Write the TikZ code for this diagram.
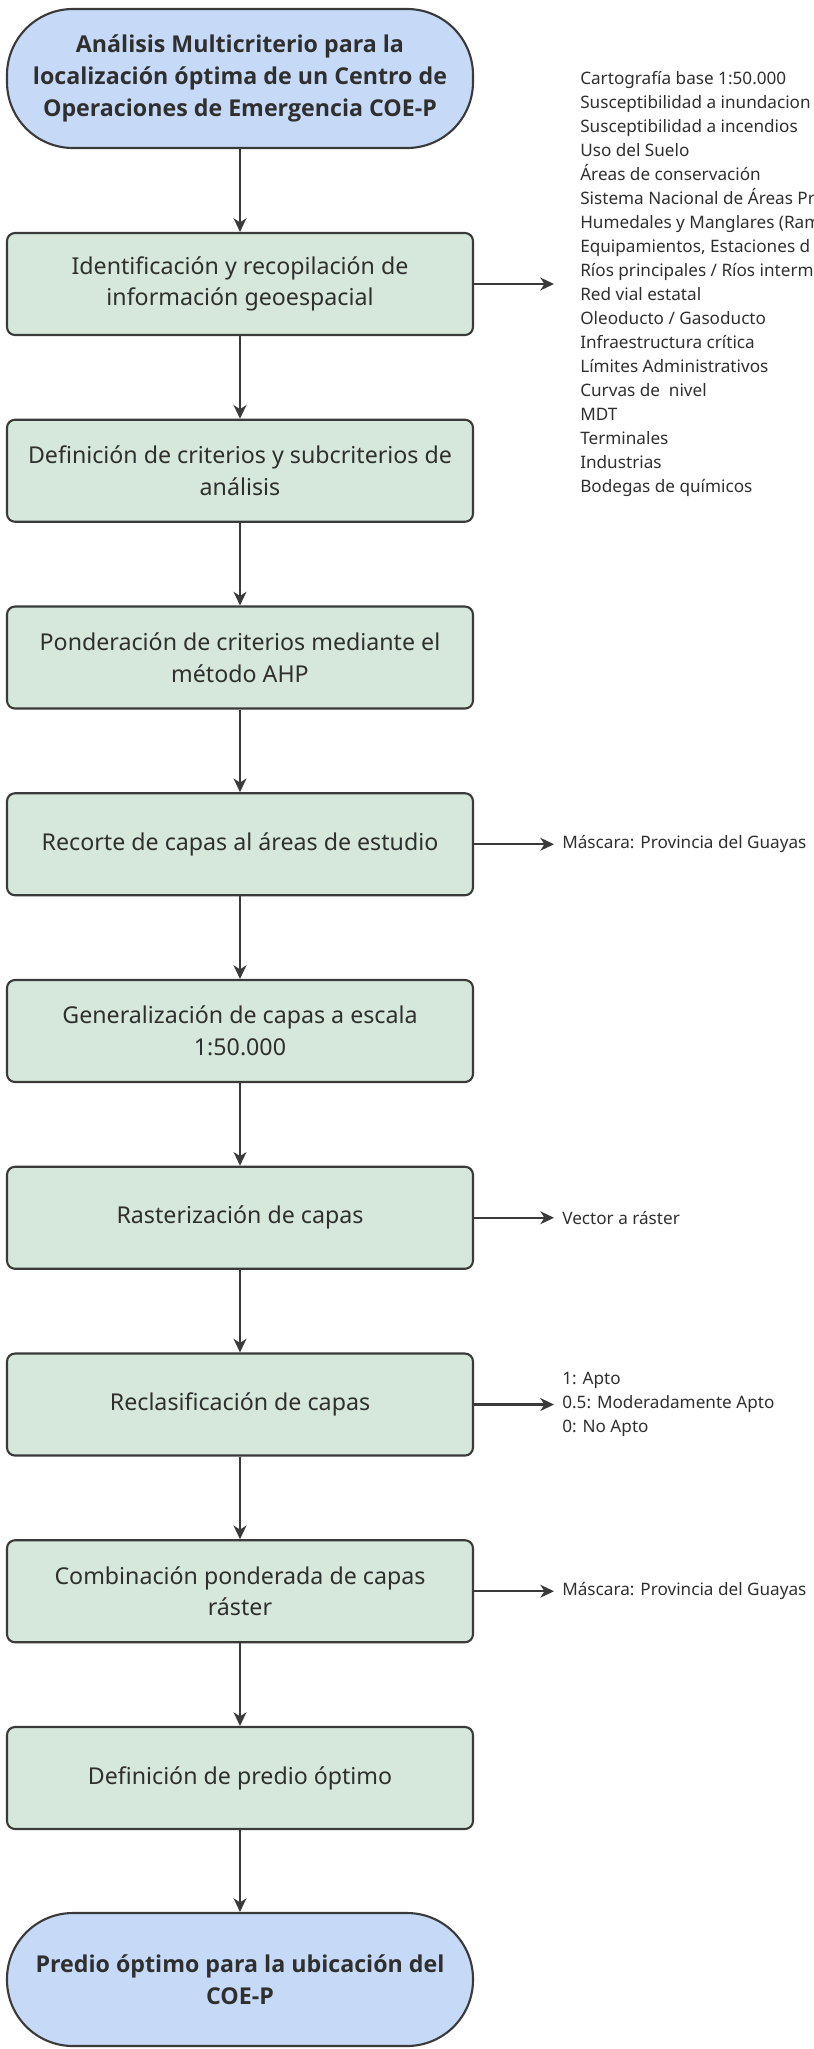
\documentclass[tikz,border=0pt]{standalone}
\usepackage{fontspec}
\setmainfont{Noto Sans}
\newfontfamily\headfont{Open Sans}
\usetikzlibrary{arrows.meta}

\definecolor{boxgreen}{HTML}{D5E8DB}
\definecolor{termblue}{HTML}{C6DAF8}
\definecolor{edgegray}{HTML}{3A3A3A}
\definecolor{inkgray}{HTML}{2F2F2F}

\begin{document}
\begin{tikzpicture}[
    terminal/.style={
        rectangle,
        rounded corners=1.65cm,
        minimum width=11.65cm,
        minimum height=3.475cm,
        draw=edgegray,
        line width=1.5pt,
        fill=termblue,
        text=inkgray,
        font=\headfont\fontsize{16.5}{22.5}\selectfont\bfseries,
        align=center
    },
    process/.style={
        rectangle,
        rounded corners=0.2cm,
        minimum width=11.65cm,
        minimum height=2.55cm,
        draw=edgegray,
        line width=1.5pt,
        fill=boxgreen,
        text=inkgray,
        font=\fontsize{16.5}{22.5}\selectfont,
        align=center
    },
    note/.style={
        anchor=west,
        inner ysep=0pt,
        inner xsep=0.2cm,
        text=inkgray,
        font=\fontsize{12.2}{17.07}\selectfont,
        align=left
    },
    flow/.style={
        -{Stealth[length=0.34cm, width=0.32cm, inset=0.1cm]},
        line width=1.5pt,
        draw=edgegray
    }
]

\useasboundingbox (0,0) rectangle (20.35,-51.225);

\node[terminal] (start) at (6,-1.9625) {Análisis Multicriterio para la\\localización óptima de un Centro de\\Operaciones de Emergencia COE-P};

\node[process] (ident) at (6,-7.1) {Identificación y recopilación de\\información geoespacial};
\node[process] (crit) at (6,-11.769) {Definición de criterios y subcriterios de\\análisis};
\node[process] (ahp) at (6,-16.438) {Ponderación de criterios mediante el\\método AHP};
\node[process] (recorte) at (6,-21.106) {Recorte de capas al áreas de estudio};
\node[process] (general) at (6,-25.775) {Generalización de capas a escala\\1:50.000};
\node[process] (raster) at (6,-30.444) {Rasterización de capas};
\node[process] (reclas) at (6,-35.113) {Reclasificación de capas};
\node[process] (combi) at (6,-39.781) {Combinación ponderada de capas\\ráster};
\node[process] (predio) at (6,-44.45) {Definición de predio óptimo};

\node[terminal, minimum height=3.325cm] (final) at (6,-49.4875) {Predio óptimo para la ubicación del\\COE-P};

% Side notes
\node[note, inner xsep=0.65cm] (capas) at (13.85,-7.1) {Cartografía base 1:50.000\\Susceptibilidad a inundacion\\Susceptibilidad a incendios\\Uso del Suelo\\Áreas de conservación\\Sistema Nacional de Áreas Pr\\Humedales y Manglares (Ram\\Equipamientos, Estaciones d\\Ríos principales / Ríos interm\\Red vial estatal\\Oleoducto / Gasoducto\\Infraestructura crítica\\Límites Administrativos\\Curvas de\ \ nivel\\MDT\\Terminales\\Industrias\\Bodegas de químicos};
\node[note] (mask1) at (13.85,-21.106) {Máscara: Provincia del Guayas};
\node[note] (vector) at (13.85,-30.444) {Vector a ráster};
\node[note] (clases) at (13.85,-35.113) {1: Apto\\0.5: Moderadamente Apto\\0: No Apto};
\node[note] (mask2) at (13.85,-39.781) {Máscara: Provincia del Guayas};

% Arrows
\draw[flow] (start) -- (ident);
\draw[flow] (ident) -- (crit);
\draw[flow] (crit) -- (ahp);
\draw[flow] (ahp) -- (recorte);
\draw[flow] (recorte) -- (general);
\draw[flow] (general) -- (raster);
\draw[flow] (raster) -- (reclas);
\draw[flow] (reclas) -- (combi);
\draw[flow] (combi) -- (predio);
\draw[flow] (predio) -- (final);

\draw[flow] (ident.east) -- (capas.west);
\draw[flow] (recorte.east) -- (mask1.west);
\draw[flow] (raster.east) -- (vector.west);
\draw[flow] (reclas.east) -- (clases.west);
\draw[flow] (combi.east) -- (mask2.west);

\end{tikzpicture}
\end{document}
